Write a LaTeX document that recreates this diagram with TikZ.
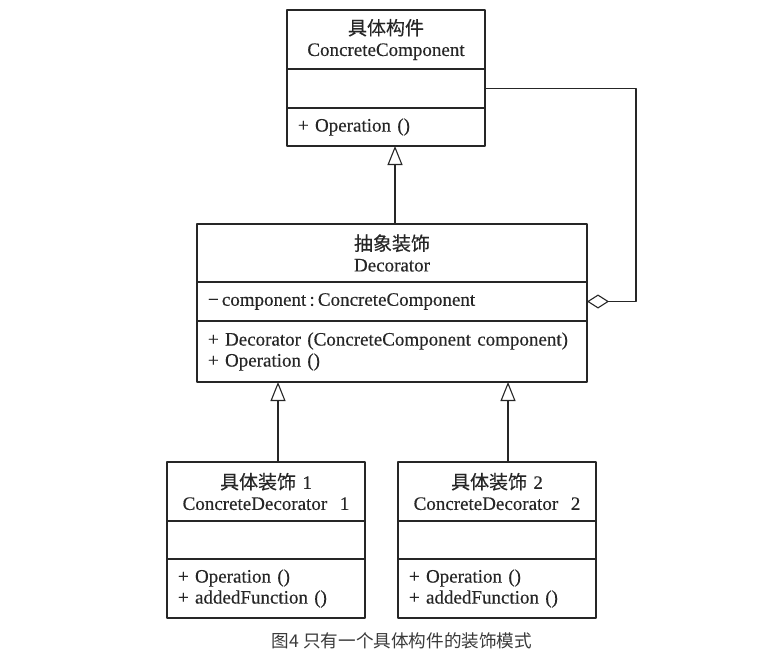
\documentclass[tikz,border=0pt]{standalone}
\usepackage{fontspec}
\setmainfont{Liberation Serif}[FakeBold=0.35]
\newfontfamily\cjk{Noto Sans CJK SC}[FakeBold=0.3]
\newfontfamily\cjkdida{Noto Sans CJK SC}
\usepackage{xcolor}
\usepackage{tikz}
\usetikzlibrary{arrows.meta,positioning}

\definecolor{linea}{HTML}{262626}
\definecolor{didascalia}{HTML}{3A3A3A}
\newcommand\testo{\fontsize{19}{21}\selectfont}

\begin{document}
\begin{tikzpicture}[x=1pt, y=-1pt, line cap=round, line join=round,
  classe/.style={draw=linea, line width=1.1pt, inner xsep=11pt, inner ysep=0pt,
    outer sep=0pt, text width=#1, text=linea, font=\testo},
  eredita/.style={draw=linea, line width=1.1pt, -{Triangle[open, length=19pt, width=15pt]}},
  aggrega/.style={draw=linea, line width=1.1pt, -{Diamond[open, length=22pt, width=14pt]}}]

\useasboundingbox (0,0) rectangle (783,661);

% Componente concreto
\node[classe=176pt, align=center, minimum height=59pt, anchor=north west] (cc-nome) at (287,10)
  {{\cjk 具体构件}\\ConcreteComponent};
\node[classe=176pt, minimum height=39pt, below=0pt of cc-nome] (cc-attr) {};
\node[classe=176pt, align=left, minimum height=38pt, below=0pt of cc-attr] (cc-metodi)
  {+ Operation ()};

% Decoratore astratto
\node[classe=368pt, align=center, minimum height=58pt, anchor=north west] (dec-nome) at (197,224)
  {{\cjk 抽象装饰}\\Decorator};
\node[classe=368pt, align=left, minimum height=39pt, below=0pt of dec-nome] (dec-attr)
  {−\,component\,:\,ConcreteComponent};
\node[classe=368pt, align=left, minimum height=61pt, below=0pt of dec-attr] (dec-metodi)
  {+ Decorator (ConcreteComponent component)\\+ Operation ()};

% Decoratori concreti
\node[classe=176pt, align=center, minimum height=59pt, anchor=north west] (cd1-nome) at (167,462)
  {{\cjk 具体装饰} 1\\ConcreteDecorator\ \ 1};
\node[classe=176pt, minimum height=38pt, below=0pt of cd1-nome] (cd1-attr) {};
\node[classe=176pt, align=left, minimum height=59pt, below=0pt of cd1-attr] (cd1-metodi)
  {+ Operation ()\\+ addedFunction ()};

\node[classe=176pt, align=center, minimum height=59pt, anchor=north west] (cd2-nome) at (398,462)
  {{\cjk 具体装饰} 2\\ConcreteDecorator\ \ 2};
\node[classe=176pt, minimum height=38pt, below=0pt of cd2-nome] (cd2-attr) {};
\node[classe=176pt, align=left, minimum height=59pt, below=0pt of cd2-attr] (cd2-metodi)
  {+ Operation ()\\+ addedFunction ()};

% Frecce
\draw[eredita] ([xshift=3pt]dec-nome.north) -- ([xshift=3pt]dec-nome.north |- cc-metodi.south);
\draw[eredita] ([xshift=12pt]cd1-nome.north) -- ([xshift=12pt]cd1-nome.north |- dec-metodi.south);
\draw[eredita] ([xshift=11pt]cd2-nome.north) -- ([xshift=11pt]cd2-nome.north |- dec-metodi.south);
\draw[aggrega] (cc-attr.east) -- ++(151,0) |- (dec-attr.east);

% Didascalia
\node[text=didascalia, font=\cjkdida\fontsize{17.6}{19}\selectfont] (titolo) at (402,641)
  {图4 只有一个具体构件的装饰模式};

\end{tikzpicture}
\end{document}
